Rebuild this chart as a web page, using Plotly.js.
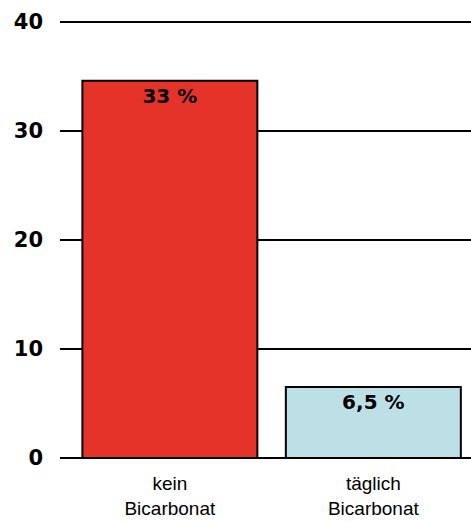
<!DOCTYPE html>
<html>
<head>
<meta charset="utf-8">
<script src="https://cdn.plot.ly/plotly-3.0.1.min.js"></script>
<style>html,body{margin:0;padding:0;background:#fff;}#chart{width:471px;height:522px;}</style>
</head>
<body>
<div id="chart"></div>
<script>
const categories = ["kein<br>Bicarbonat", "täglich<br>Bicarbonat"];
const values = [34.6, 6.5];
const valueLabels = ["33 %", "6,5 %"];
const barColors = ["#e5332a", "#bde0e7"];
const yTicks = [0, 10, 20, 30, 40];

const trace = {
  type: "bar",
  x: categories,
  y: values,
  text: valueLabels,
  textposition: "inside",
  insidetextanchor: "end",
  textangle: 0,
  textfont: {family: "DejaVu Sans", size: 20, color: "#000", weight: "bold"},
  marker: {color: barColors, line: {color: "#000", width: 2}},
  width: 0.86,
  hoverinfo: "none"
};

const layout = {
  width: 471, height: 522,
  margin: {l: 60, r: 0, t: 18, b: 64, pad: 0},
  paper_bgcolor: "#fff", plot_bgcolor: "#fff",
  showlegend: false,
  xaxis: {
    type: "category",
    range: [-0.54, 1.48],
    showgrid: false, showline: false, zeroline: false,
    ticks: "",
    ticklabelstandoff: 12,
    tickfont: {family: "Liberation Sans", size: 19, color: "#000"}
  },
  yaxis: {
    range: [0, 40.35],
    tickvals: yTicks,
    ticktext: yTicks.map(String),
    showgrid: true, gridcolor: "#000", gridwidth: 2.5,
    zeroline: true, zerolinecolor: "#000", zerolinewidth: 2.5,
    showline: false, ticks: "",
    ticklabelstandoff: 16,
    tickfont: {family: "DejaVu Sans", size: 21, color: "#000", weight: "bold"}
  },
  uniformtext: {mode: false}
};

Plotly.newPlot("chart", [trace], layout, {displayModeBar: false, staticPlot: true});
</script>
</body>
</html>
